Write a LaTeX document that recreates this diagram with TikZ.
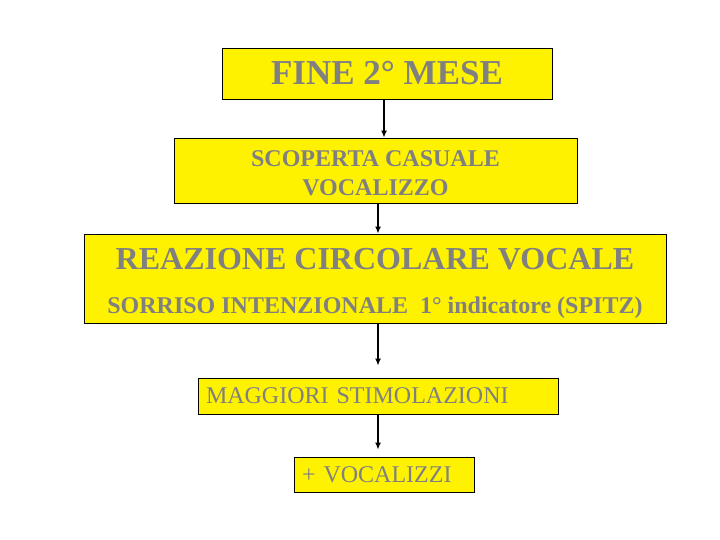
\documentclass[tikz,border=0pt]{standalone}
\usepackage{fontspec}
\setmainfont{Liberation Serif}
\usetikzlibrary{arrows.meta}
\definecolor{txtgray}{RGB}{128,128,128}
\begin{document}
\begin{tikzpicture}
[x=1pt,y=-1pt,
mybox/.style={rectangle,draw=black,line width=0.8pt,fill=yellow,text=txtgray,inner sep=0pt,align=center},
leftbox/.style={mybox,align=left,inner xsep=8pt,font=\fontsize{24}{29}\selectfont}]
\fill[white] (0,0) rectangle (720,540);
\useasboundingbox (0,0) rectangle (720,540);

\node (fine) at (387,73.5) [mybox,minimum width=330pt,minimum height=51pt,font=\bfseries\fontsize{35}{40}\selectfont] {FINE 2° MESE};
\node (scoperta) at (375.5,170.5) [mybox,minimum width=403pt,minimum height=65pt,font=\bfseries\fontsize{24}{29}\selectfont] {\rule{0pt}{21pt}SCOPERTA CASUALE\\VOCALIZZO};
\node (reazione) at (375,278.5) [mybox,minimum width=582pt,minimum height=89pt,font=\bfseries\fontsize{24}{44}\selectfont] {{\fontsize{32}{44}\selectfont\rule{0pt}{31pt}REAZIONE CIRCOLARE VOCALE}\\SORRISO INTENZIONALE \ 1° indicatore (SPITZ)};
\node (stimoli) at (378,396) [leftbox,text width=344pt,minimum height=36pt] {MAGGIORI STIMOLAZIONI};
\node (vocalizzi) at (384,474.5) [leftbox,text width=164pt,minimum height=35pt] {+ VOCALIZZI};

\foreach \from/\to/\dx/\gap in {fine/scoperta/-3/0, scoperta/reazione/2.5/0, reazione/stimoli/3/12, stimoli/vocalizzi/0/7}
	\draw [-{Latex[length=7pt,width=6pt]},line width=1.5pt,shorten >=\gap pt] ([xshift=\dx pt]\from.south) -- ([xshift=\dx pt]\from.south |- \to.north);

\end{tikzpicture}
\end{document}
